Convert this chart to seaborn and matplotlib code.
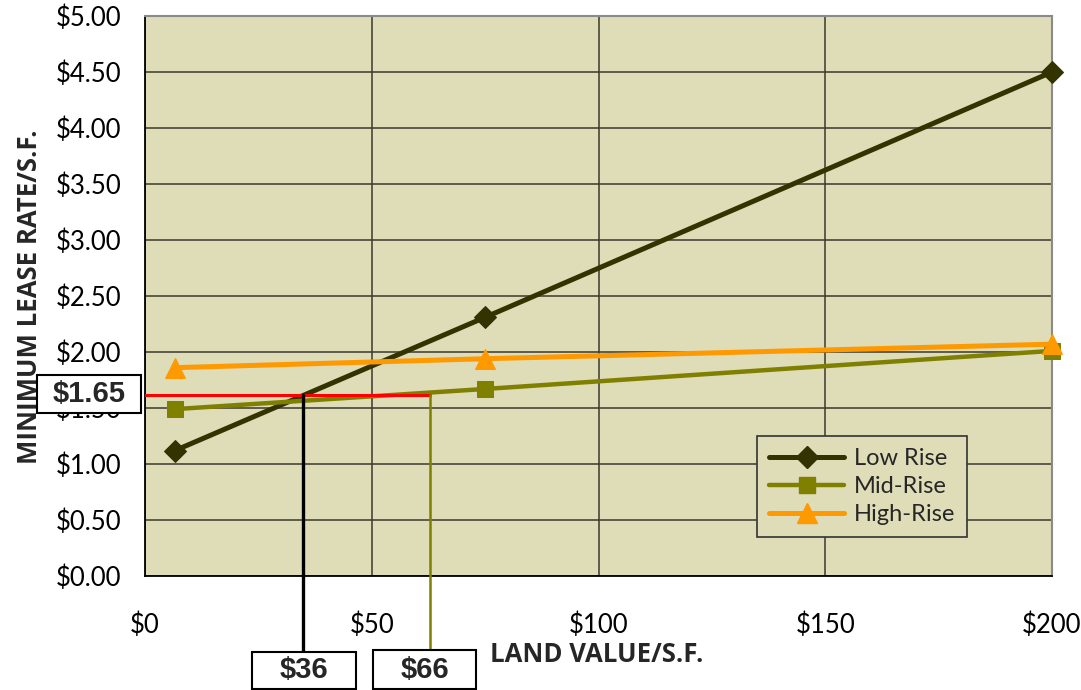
import matplotlib
matplotlib.use("Agg")
import matplotlib.pyplot as plt
import seaborn as sns
import pandas as pd
from matplotlib.lines import Line2D
from matplotlib.patches import Rectangle

# ---- data ----
land_value = [6.6, 75, 200]
low_rise = [1.12, 2.31, 4.50]
mid_rise = [1.49, 1.67, 2.01]
high_rise = [1.86, 1.94, 2.07]
series_names = ["Low Rise", "Mid-Rise", "High-Rise"]
target_rate = 1.62
target_label = "$1.65"
low_cross = 34.9
mid_cross = 62.8
cross_labels = ["$36", "$66"]
x_ticks = [0, 50, 100, 150, 200]
y_ticks = [0, 0.5, 1.0, 1.5, 2.0, 2.5, 3.0, 3.5, 4.0, 4.5, 5.0]

sns.set_theme(style="white")
plt.rcParams["font.family"] = ["Lato", "DejaVu Sans"]

colors = ["#333300", "#808000", "#FF9900"]
markers = ["D", "s", "^"]
msizes = [11, 11, 15]
lws = [3.6, 3.2, 3.6]

W, H = 1081, 690
fig = plt.figure(figsize=(10.81, 6.90), dpi=100)
ax = fig.add_axes([145/W, 1-576/H, (1052-145)/W, (576-16)/H])
ax.set_facecolor("#DFDCB8")

df = pd.DataFrame({"x": land_value * 3,
                   "y": low_rise + mid_rise + high_rise,
                   "series": sum([[n]*3 for n in series_names], [])})

for name, c, m, ms, lw in zip(series_names, colors, markers, msizes, lws):
    sub = df[df["series"] == name]
    sns.lineplot(data=sub, x="x", y="y", ax=ax, color=c, marker=m, markersize=ms,
                 markeredgecolor=c, linewidth=lw, zorder=3, clip_on=False, legend=False)

ax.set_xlim(0, 200)
ax.set_ylim(0, 5)
ax.set_xticks(x_ticks)
ax.set_yticks(y_ticks)
ax.set_xticklabels([f"${v}" for v in x_ticks])
ax.set_yticklabels([f"${v:.2f}" for v in y_ticks])
ax.tick_params(axis="both", direction="out", length=9, width=1.2, color="black",
               labelsize=18.5, labelcolor="black")
ax.tick_params(axis="y", pad=8)
ax.tick_params(axis="x", pad=17)
ax.grid(True, color="#3a3a30", linewidth=1.1)
ax.set_axisbelow(True)
for s in ["top", "right"]:
    ax.spines[s].set_color("#8a8a8a")
    ax.spines[s].set_linewidth(1.5)
for s in ["left", "bottom"]:
    ax.spines[s].set_color("black")
    ax.spines[s].set_linewidth(1.3)
ax.set_xlabel("")
ax.set_ylabel("")

# reference lines
ax.plot([0, mid_cross], [target_rate, target_rate], color="#FF0000", lw=2.2, zorder=4)
ax.plot([low_cross, low_cross], [target_rate, -0.68], color="black", lw=2.4,
        zorder=4, clip_on=False)
ax.plot([mid_cross, mid_cross], [target_rate, -0.68], color="#808000", lw=1.8,
        zorder=4, clip_on=False)

def label_box(x0, y0, x1, y1, text):
    fig.patches.append(Rectangle((x0/W, 1-y1/H), (x1-x0)/W, (y1-y0)/H,
                                 transform=fig.transFigure, fc="white", ec="black",
                                 lw=1.5, zorder=5))
    fig.text((x0+x1)/2/W, 1-(y0+y1)/2/H, text, ha="center", va="center",
             fontsize=21, fontweight="bold", family="Liberation Sans", zorder=6)

label_box(37, 375, 141, 413, target_label)
label_box(252, 652, 356, 689, cross_labels[0])
label_box(373, 650, 476, 689, cross_labels[1])

fig.text(597/W, 1-655/H, "LAND VALUE/S.F.", ha="center", va="center",
         fontsize=18.5, fontweight="bold", family="Open Sans")
fig.text(30/W, 1-297/H, "MINIMUM LEASE RATE/S.F.", ha="center", va="center",
         fontsize=18.5, fontweight="bold", rotation=90, family="Open Sans")

handles = [Line2D([0], [0], color=c, marker=m, markersize=ms, lw=lw, markeredgecolor=c)
           for c, m, ms, lw in zip(colors, markers, msizes, lws)]
leg = ax.legend(handles, series_names, loc="upper left",
                bbox_to_anchor=((757-145)/907, 1-(436-16)/560),
                fontsize=17, frameon=True, fancybox=False, handlelength=3.2,
                borderpad=0.5, labelspacing=0.3, handletextpad=0.4, borderaxespad=0,
                facecolor="#DFDCB8", edgecolor="#333333", framealpha=1)
leg.get_frame().set_linewidth(1.2)

fig.savefig("out.png", dpi=100)
